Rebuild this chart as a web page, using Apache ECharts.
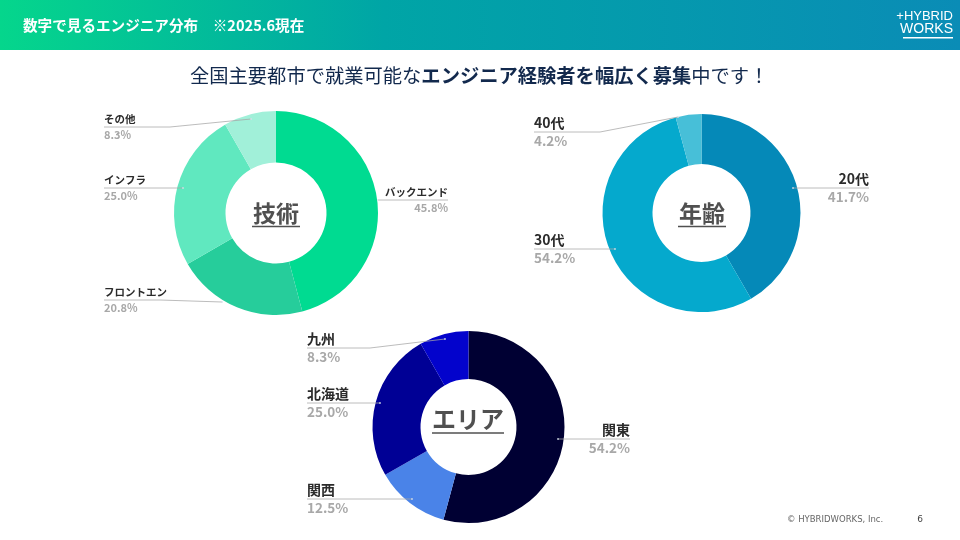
<!DOCTYPE html>
<html>
<head>
<meta charset="utf-8">
<style>
html, body { margin: 0; padding: 0; background: #fff; }
#chart { width: 960px; height: 540px; }
</style>
<script src="https://cdn.jsdelivr.net/npm/echarts@6/dist/echarts.min.js"></script>
</head>
<body>
<div id="chart"></div>
<script>
var techNames = ['バックエンド', 'フロントエン', 'インフラ', 'その他'];
var techValues = [45.8, 20.8, 25.0, 8.3];
var ageNames = ['20代', '30代', '40代'];
var ageValues = [41.7, 54.2, 4.2];
var areaNames = ['関東', '関西', '北海道', '九州'];
var areaValues = [54.2, 12.5, 25.0, 8.3];

var techColors = ['#00DB91', '#26CD9B', '#60E8BF', '#A1F0D9'];
var ageColors = ['#0589B8', '#05A9CD', '#47BFD8'];
var areaColors = ['#000033', '#4A83E8', '#000095', '#0303CC'];

var FONT = '"Noto Sans CJK JP", sans-serif';

// leader line of each slice: text edge x, line y, elbow x, end x, end y
var techLines = [
    [448, 200, 385, 378, 200],
    [104, 300, 160, 222, 302],
    [104, 188, 150, 183, 188],
    [104, 127, 170, 251, 119]
];
var ageLines = [
    [869, 188, 830, 793, 188],
    [534, 249, 590, 615, 249],
    [534, 132, 600, 678, 117]
];
var areaLines = [
    [630, 439, 590, 558, 439],
    [307, 499, 370, 412, 499],
    [307, 403, 350, 380, 403],
    [307, 348, 370, 445, 339]
];

function makePie(names, values, colors, lines, center, radius, nameSize, pctSize, lineH) {
    var rows = [];
    for (var i = 0; i < names.length; i++) {
        rows.push({ name: names[i], value: values[i], itemStyle: { color: colors[i] } });
    }
    return {
        type: 'pie',
        silent: true,
        center: center,
        radius: radius,
        startAngle: 90,
        clockwise: true,
        animation: false,
        data: rows,
        label: {
            show: true,
            formatter: function (p) {
                return '{n|' + p.name + '}\n{p|' + p.value.toFixed(1) + '%}';
            },
            rich: {
                n: { fontFamily: FONT, fontSize: nameSize, fontWeight: 'bold', color: '#2b2b2b', lineHeight: lineH },
                p: { fontFamily: FONT, fontSize: pctSize, fontWeight: 'bold', color: '#a8a8a8', lineHeight: lineH }
            }
        },
        labelLine: { show: false },
        labelLayout: function (p) {
            var l = lines[p.dataIndex];
            return {
                x: l[0],
                y: l[1],
                align: l[0] > l[3] ? 'right' : 'left',
                verticalAlign: 'middle'
            };
        }
    };
}

// leader lines sit on top of the ring, the library draws its own ones under it
function leaderLines(lines) {
    var out = [];
    lines.forEach(function (l) {
        out.push({
            type: 'polyline', z: 100,
            shape: { points: [[l[0], l[1]], [l[2], l[1]], [l[3], l[4]]] },
            style: { stroke: 'rgba(165,165,165,0.75)', lineWidth: 1, fill: null }
        });
        out.push({
            type: 'circle', z: 100,
            shape: { cx: l[3], cy: l[4], r: 1 },
            style: { fill: 'rgba(215,225,235,0.8)' }
        });
    });
    return out;
}

function centerText(x, y, text, w, size) {
    return [
        {
            type: 'text', x: x, y: y,
            style: { text: text, font: 'bold ' + size + 'px ' + FONT, fill: '#505050', align: 'center', verticalAlign: 'middle' }
        },
        {
            type: 'rect', shape: { x: x - w / 2, y: y + size * 0.55, width: w, height: 1.5 },
            style: { fill: '#505050' }
        }
    ];
}

var graphics = [
    {
        type: 'rect', z: 0, shape: { x: 0, y: 0, width: 960, height: 50 },
        style: {
            fill: new echarts.graphic.LinearGradient(0, 0, 1, 0, [
                { offset: 0, color: '#05D68C' },
                { offset: 0.4, color: '#00A5A6' },
                { offset: 1, color: '#0A8CB6' }
            ])
        }
    },
    {
        type: 'text', x: 23, y: 25,
        style: { text: '数字で見るエンジニア分布　※2025.6現在', font: 'bold 14.6px ' + FONT, fill: '#fff', verticalAlign: 'middle' }
    },
    {
        type: 'text', x: 953, y: 16,
        style: { text: '+HYBRID', font: '13px "Liberation Sans", sans-serif', fill: '#fff', align: 'right', verticalAlign: 'middle' }
    },
    {
        type: 'text', x: 953, y: 29,
        style: { text: 'WORKS', font: '14px "Liberation Sans", sans-serif', fill: '#fff', align: 'right', verticalAlign: 'middle' }
    },
    {
        type: 'rect', shape: { x: 903, y: 37, width: 50, height: 1.5 }, style: { fill: '#fff' }
    },
    {
        type: 'text', x: 190, y: 76,
        style: {
            text: '{a|全国主要都市で就業可能な}{b|エンジニア経験者を幅広く募集}{a|中です！}',
            verticalAlign: 'middle',
            rich: {
                a: { font: '19.3px ' + FONT, fill: '#12294d' },
                b: { font: 'bold 19.3px ' + FONT, fill: '#12294d' }
            }
        }
    },
    {
        type: 'text', x: 787, y: 520,
        style: { text: '© HYBRIDWORKS, Inc.', font: '8.5px "DejaVu Sans", sans-serif', fill: '#666', verticalAlign: 'middle' }
    },
    {
        type: 'text', x: 920, y: 520,
        style: { text: '6', font: '9px "DejaVu Sans", sans-serif', fill: '#444', align: 'center', verticalAlign: 'middle' }
    }
];
graphics = graphics
    .concat(leaderLines(techLines))
    .concat(leaderLines(ageLines))
    .concat(leaderLines(areaLines))
    .concat(centerText(276, 213, '技術', 48, 23))
    .concat(centerText(702, 213, '年齢', 48, 23))
    .concat(centerText(468, 419, 'エリア', 72, 24));

var chart = echarts.init(document.getElementById('chart'), null, { renderer: 'canvas' });
chart.setOption({
    animation: false,
    backgroundColor: '#fff',
    graphic: graphics,
    series: [
        makePie(techNames, techValues, techColors, techLines, [276, 213], [50.5, 102], 10.5, 11, 16.5),
        makePie(ageNames, ageValues, ageColors, ageLines, [701.5, 213], [49, 99], 14, 13.5, 18.5),
        makePie(areaNames, areaValues, areaColors, areaLines, [468.5, 427], [48, 96], 14, 13.5, 18.5)
    ]
});
</script>
</body>
</html>
